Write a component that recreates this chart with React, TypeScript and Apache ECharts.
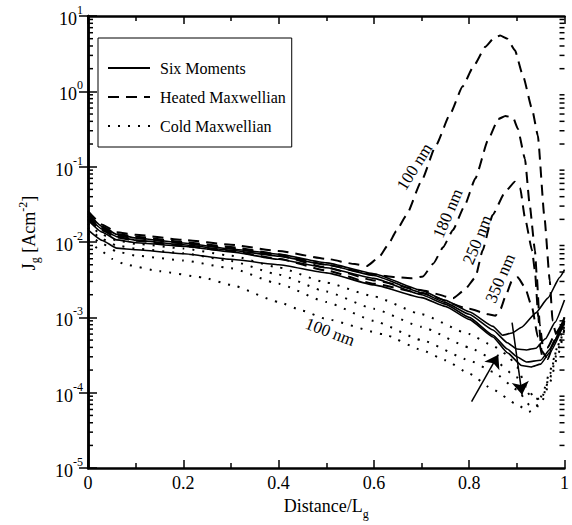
import React, { useEffect, useRef } from 'react';
import * as echarts from 'echarts';

const FONT = "'Liberation Serif', 'Times New Roman', serif";

// Six Moments (solid)
const sixMoments100 = [[0,0.0241],[0.03,0.016],[0.06,0.0127],[0.1,0.0113],[0.2,0.0097],[0.3,0.0081],[0.4,0.0069],[0.5,0.0053],[0.6,0.0038],[0.7,0.00228],[0.75,0.00168],[0.8,0.00119],[0.85,0.00076],[0.87,0.00058],[0.89,0.00062],[0.91,0.00074],[0.94,0.00115],[0.965,0.0018],[0.99,0.0034],[1.0,0.0043]];
const sixMoments180 = [[0,0.022],[0.03,0.0148],[0.06,0.0118],[0.1,0.0106],[0.2,0.0092],[0.3,0.0078],[0.4,0.0065],[0.5,0.005],[0.6,0.0036],[0.7,0.00213],[0.75,0.00157],[0.8,0.0011],[0.85,0.00068],[0.88,0.00046],[0.9,0.00038],[0.92,0.00037],[0.94,0.00039],[0.96,0.00052],[0.98,0.00086],[1.0,0.0017]];
const sixMoments250 = [[0,0.0195],[0.03,0.0135],[0.06,0.0107],[0.1,0.0098],[0.2,0.0088],[0.3,0.0074],[0.4,0.0059],[0.5,0.00455],[0.6,0.0033],[0.7,0.002],[0.75,0.0015],[0.8,0.001],[0.85,0.00058],[0.88,0.00038],[0.9,0.0003],[0.92,0.000256],[0.95,0.00027],[0.97,0.00038],[1.0,0.001]];
const sixMoments350 = [[0,0.0145],[0.03,0.0105],[0.06,0.0083],[0.1,0.0079],[0.2,0.007],[0.3,0.0059],[0.4,0.005],[0.5,0.0039],[0.6,0.0027],[0.7,0.00183],[0.75,0.0014],[0.8,0.00094],[0.85,0.00055],[0.88,0.00034],[0.91,0.00023],[0.93,0.00022],[0.95,0.00024],[0.97,0.00035],[1.0,0.00086]];

// Heated Maxwellian (dashed)
const heated100 = [[0,0.0256],[0.03,0.017],[0.06,0.0135],[0.1,0.0125],[0.2,0.0107],[0.3,0.0092],[0.4,0.0076],[0.5,0.006],[0.56,0.0051],[0.585,0.0048],[0.61,0.0062],[0.63,0.0092],[0.647,0.014],[0.668,0.0226],[0.7,0.065],[0.73,0.19],[0.76,0.5],[0.786,1.16],[0.81,2.2],[0.834,3.9],[0.852,5.1],[0.865,5.5],[0.88,5.0],[0.896,3.5],[0.913,1.6],[0.932,0.58],[0.944,0.26],[0.958,0.021],[0.969,0.0031],[0.975,0.0009],[0.982,0.0006],[0.99,0.0007],[1.0,0.001]];
const heated180 = [[0,0.0235],[0.03,0.016],[0.06,0.0128],[0.1,0.0118],[0.2,0.01],[0.3,0.0086],[0.4,0.0069],[0.5,0.005],[0.6,0.0037],[0.65,0.0034],[0.68,0.0033],[0.703,0.0035],[0.725,0.0052],[0.745,0.0085],[0.766,0.0145],[0.79,0.03],[0.813,0.07],[0.84,0.23],[0.861,0.43],[0.876,0.47],[0.892,0.45],[0.902,0.32],[0.917,0.127],[0.927,0.031],[0.938,0.0077],[0.942,0.0034],[0.948,0.0008],[0.955,0.0004],[0.965,0.0004],[0.98,0.0006],[1.0,0.00095]];
const heated250 = [[0,0.022],[0.03,0.0152],[0.06,0.0122],[0.1,0.0112],[0.2,0.0096],[0.3,0.0083],[0.4,0.0066],[0.5,0.0046],[0.6,0.0031],[0.7,0.0023],[0.766,0.0018],[0.79,0.0023],[0.813,0.0034],[0.828,0.0077],[0.849,0.0228],[0.876,0.047],[0.896,0.063],[0.907,0.052],[0.917,0.021],[0.932,0.0077],[0.938,0.0041],[0.945,0.001],[0.952,0.00036],[0.962,0.0003],[0.98,0.0005],[1.0,0.0009]];
const heated350 = [[0,0.0205],[0.03,0.0142],[0.06,0.0115],[0.1,0.0104],[0.2,0.0088],[0.3,0.0076],[0.4,0.006],[0.5,0.0042],[0.6,0.0028],[0.7,0.0021],[0.8,0.0013],[0.84,0.0011],[0.855,0.00105],[0.866,0.0013],[0.876,0.0019],[0.89,0.0031],[0.902,0.0034],[0.917,0.0025],[0.932,0.00135],[0.944,0.00055],[0.954,0.0003],[0.965,0.00028],[0.98,0.0005],[1.0,0.0009]];

// Cold Maxwellian (dotted)
const cold100 = [[0,0.0107],[0.025,0.0079],[0.05,0.006],[0.08,0.005],[0.15,0.0041],[0.24,0.0034],[0.3,0.0027],[0.4,0.0016],[0.45,0.00123],[0.5,0.00095],[0.62,0.0006],[0.7,0.00037],[0.75,0.00027],[0.8,0.00018],[0.85,0.00011],[0.9,0.00007],[0.925,0.000056],[0.94,0.00006],[0.955,0.0001],[0.97,0.0002],[0.985,0.0004],[1.0,0.0007]];
const cold180 = [[0,0.013],[0.03,0.0095],[0.06,0.0075],[0.1,0.0066],[0.2,0.0057],[0.3,0.0045],[0.4,0.0028],[0.5,0.0016],[0.6,0.0009],[0.7,0.0005],[0.8,0.00027],[0.85,0.00019],[0.9,0.00011],[0.93,0.000065],[0.95,0.00007],[0.97,0.00014],[0.985,0.0003],[1.0,0.0007]];
const cold250 = [[0,0.0155],[0.03,0.011],[0.06,0.009],[0.1,0.0082],[0.2,0.0071],[0.3,0.0056],[0.4,0.0037],[0.5,0.0022],[0.6,0.0013],[0.7,0.00075],[0.8,0.0004],[0.85,0.00028],[0.9,0.00016],[0.93,0.00009],[0.95,0.00008],[0.97,0.00016],[0.985,0.00035],[1.0,0.0008]];
const cold350 = [[0,0.0175],[0.03,0.0125],[0.06,0.0105],[0.1,0.0095],[0.2,0.0082],[0.3,0.0066],[0.4,0.0046],[0.5,0.0029],[0.6,0.0019],[0.7,0.0011],[0.8,0.0006],[0.85,0.00042],[0.88,0.00032],[0.9,0.00022],[0.92,0.00012],[0.94,0.00008],[0.955,0.00009],[0.97,0.00018],[0.985,0.0004],[1.0,0.0009]];

const legendNames = ['Six Moments', 'Heated Maxwellian', 'Cold Maxwellian'];
const xTickLabels = ['0', '0.2', '0.4', '0.6', '0.8', '1'];

// curve annotations: [text, x, y, rotation]
const curveLabels: [string, number, number, number][] = [
  ['100 nm', 0.685, 0.1, 58],
  ['180 nm', 0.755, 0.024, 67],
  ['250 nm', 0.817, 0.0107, 68],
  ['350 nm', 0.865, 0.0033, 67],
  ['100 nm', 0.508, 0.00064, -21],
];
// arrows: [from, to]
const arrows = [
  [[0.805, 7.6e-5], [0.861, 3.2e-4]],
  [[0.89, 8.5e-4], [0.911, 9.4e-5]],
];

const minorTickValues: number[][] = [];
for (let e = -5; e < 1; e++) {
  for (let m = 2; m <= 9; m++) minorTickValues.push([0, m * Math.pow(10, e)]);
}

export default function App() {
  const ref = useRef<HTMLDivElement>(null);
  useEffect(() => {
    const chart = echarts.init(ref.current!, null, { renderer: 'svg' });
    const mkLine = (name: string, data: number[][], type: any, width: number) => ({
      name,
      type: 'line',
      data,
      showSymbol: false,
      symbol: 'none',
      smooth: 0.15,
      smoothMonotone: 'x',
      lineStyle: { color: '#000', width, type, cap: 'butt' },
      itemStyle: { color: '#000' },
      z: 3,
    });
    const axisCommon = {
      axisLine: { show: true, lineStyle: { color: '#000', width: 2.5 } },
      splitLine: { show: false },
    };
    const option: any = {
      animation: false,
      backgroundColor: '#fff',
      grid: { left: 88, right: 2, top: 16, bottom: 53, containLabel: false },
      legend: {
        data: legendNames,
        orient: 'vertical',
        left: 98,
        top: 38,
        padding: [22, 6, 13, 9],
        borderColor: '#000',
        borderWidth: 1,
        itemWidth: 42,
        itemHeight: 14,
        itemGap: 13,
        selectedMode: false,
        itemStyle: { opacity: 0, borderWidth: 0 },
        textStyle: { fontFamily: FONT, fontSize: 16, color: '#000', padding: [0, 0, 0, 5] },
      },
      xAxis: [
        {
          type: 'value', min: 0, max: 1, interval: 0.2, position: 'bottom',
          ...axisCommon,
          axisTick: { show: true, inside: true, length: 8, lineStyle: { color: '#000', width: 1.5 } },
          minorTick: { show: true, splitNumber: 2, length: 5, lineStyle: { color: '#000', width: 1.5 } },
          axisLabel: {
            fontFamily: FONT, fontSize: 18, color: '#000', margin: 6,
            formatter: (v: number) => xTickLabels[Math.round(v * 5)] ?? '',
          },
          name: '{a|Distance/L}{sub|g}',
          nameLocation: 'middle',
          nameGap: 22,
          nameTextStyle: {
            rich: {
              a: { fontFamily: FONT, fontSize: 18, color: '#000', lineHeight: 28, verticalAlign: 'middle' },
              sub: { fontFamily: FONT, fontSize: 12, color: '#000', lineHeight: 12, verticalAlign: 'bottom' },
            },
          },
        },
        {
          type: 'value', min: 0, max: 1, interval: 0.2, position: 'top',
          ...axisCommon,
          axisTick: { show: true, inside: true, length: 8, lineStyle: { color: '#000', width: 1.5 } },
          minorTick: { show: true, splitNumber: 2, length: 5, lineStyle: { color: '#000', width: 1.5 } },
          axisLabel: { show: false },
        },
      ],
      yAxis: [
        {
          type: 'log', logBase: 10, min: 1e-5, max: 10, splitNumber: 6, position: 'left',
          ...axisCommon,
          axisTick: { show: true, inside: true, length: 9, lineStyle: { color: '#000', width: 1.5 } },
          axisLabel: {
            margin: 5,
            formatter: (v: number) => `{b|10}{s|${Math.round(Math.log10(v))}}`,
            rich: {
              b: { fontFamily: FONT, fontSize: 18, color: '#000', lineHeight: 24, verticalAlign: 'bottom' },
              s: { fontFamily: FONT, fontSize: 12, color: '#000', lineHeight: 24, verticalAlign: 'top' },
            },
          },
          name: '{a|J}{sub|g}{a| [Acm}{sup|-2}{a|]}',
          nameLocation: 'middle',
          nameRotate: 90,
          nameGap: 47,
          nameTextStyle: {
            padding: [0, 0, 0, 18],
            rich: {
              a: { fontFamily: FONT, fontSize: 18, color: '#000', lineHeight: 24, verticalAlign: 'middle' },
              sub: { fontFamily: FONT, fontSize: 12, color: '#000', lineHeight: 24, verticalAlign: 'bottom' },
              sup: { fontFamily: FONT, fontSize: 12, color: '#000', lineHeight: 24, verticalAlign: 'top' },
            },
          },
        },
        {
          type: 'log', logBase: 10, min: 1e-5, max: 10, splitNumber: 6, position: 'right',
          ...axisCommon,
          axisTick: { show: true, inside: true, length: 9, lineStyle: { color: '#000', width: 1.5 } },
          axisLabel: { show: false },
        },
      ],
      series: [
        mkLine('Six Moments', sixMoments100, 'solid', 1.6),
        mkLine('Six Moments', sixMoments180, 'solid', 1.6),
        mkLine('Six Moments', sixMoments250, 'solid', 1.6),
        mkLine('Six Moments', sixMoments350, 'solid', 1.6),
        mkLine('Heated Maxwellian', heated100, [11, 7], 2),
        mkLine('Heated Maxwellian', heated180, [11, 7], 2),
        mkLine('Heated Maxwellian', heated250, [11, 7], 2),
        mkLine('Heated Maxwellian', heated350, [11, 7], 2),
        mkLine('Cold Maxwellian', cold100, [2, 8], 2),
        mkLine('Cold Maxwellian', cold180, [2, 8], 2),
        mkLine('Cold Maxwellian', cold250, [2, 8], 2),
        mkLine('Cold Maxwellian', cold350, [2, 8], 2),
        {
          name: 'minorTicks',
          type: 'custom',
          silent: true,
          clip: false,
          data: minorTickValues,
          encode: { x: 0, y: 1 },
          renderItem: (_p: any, api: any) => {
            const v = api.value(1);
            const l = api.coord([0, v]);
            const r = api.coord([1, v]);
            const st = { stroke: '#000', lineWidth: 1.5 };
            return {
              type: 'group',
              children: [
                { type: 'line', shape: { x1: l[0], y1: l[1], x2: l[0] + 5, y2: l[1] }, style: st },
                { type: 'line', shape: { x1: r[0] - 5, y1: r[1], x2: r[0], y2: r[1] }, style: st },
              ],
            };
          },
          z: 5,
        },
        {
          name: 'annotations',
          type: 'scatter',
          data: [],
          silent: true,
          markPoint: {
            symbol: 'circle',
            symbolSize: 1,
            itemStyle: { color: 'rgba(0,0,0,0)' },
            data: curveLabels.map(([t, x, y, rot]) => ({
              coord: [x, y],
              label: {
                show: true, position: 'inside', formatter: t, rotate: rot,
                fontFamily: FONT, fontSize: 17, color: '#000',
              },
            })),
          },
          markLine: {
            silent: true,
            symbol: ['none', 'arrow'],
            symbolSize: 13,
            label: { show: false },
            lineStyle: { color: '#000', width: 1.5, type: 'solid' },
            data: arrows.map(([a, b]) => [{ coord: a }, { coord: b }]),
          },
        },
      ],
    };
    chart.setOption(option);
    return () => chart.dispose();
  }, []);
  return (
    <div
      ref={ref}
      style={{ position: 'fixed', left: 0, top: 0, width: 572, height: 525, background: '#fff' }}
    />
  );
}
